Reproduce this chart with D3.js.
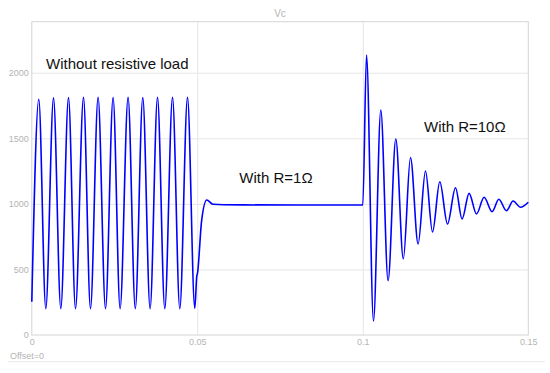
<!DOCTYPE html>
<html>
<head>
<meta charset="utf-8">
<script src="https://cdn.jsdelivr.net/npm/d3@7"></script>
<style>
  body { margin: 0; background: #fff; }
  svg { display: block; font-family: "Liberation Sans", Arial, sans-serif; }
</style>
</head>
<body>
<svg width="550" height="373"></svg>
<script>
// extrema: time (s) and Vc
const tNoLoad = [0, 0.00211, 0.00423, 0.00656, 0.00876, 0.01109, 0.0132, 0.01562, 0.01773, 0.02003, 0.02227,
                 0.02456, 0.02668, 0.02909, 0.03127, 0.03353, 0.03574, 0.03798, 0.04018, 0.04251, 0.04471, 0.04704, 0.04924];
const vNoLoad = [254, 1797, 200, 1808, 200, 1810, 200, 1812, 200, 1812, 200,
                 1810, 200, 1812, 200, 1810, 200, 1812, 200, 1812, 200, 1812, 204];
const tR1 = [0.04985, 0.05005, 0.0513, 0.05287, 0.0547, 0.058, 0.08, 0.1];
const vR1 = [450, 470, 870, 1029, 997, 993, 991, 991];
const tR10 = [0.10112, 0.10323, 0.10544, 0.10764, 0.10997, 0.11224, 0.11441, 0.11671, 0.11894, 0.12106, 0.12326, 0.12559,
              0.128, 0.13, 0.13211, 0.13435, 0.13665, 0.13906, 0.14109, 0.14341, 0.14541, 0.14764, 0.15];
const vR10 = [2135, 107, 1716, 414, 1494, 581, 1353, 694, 1250, 785, 1169, 846,
              1123, 884, 1080, 923, 1050, 940, 1035, 948, 1022, 974, 1012];

const xTicks = [0, 0.05, 0.1, 0.15];
const yTicks = [0, 500, 1000, 1500, 2000];
const notes = ["Without resistive load", "With R=1Ω", "With R=10Ω"];

const svg = d3.select("svg"),
      margin = {top: 21.7, left: 31.8, right: 21.7, bottom: 38},
      width = 550 - margin.left - margin.right,
      height = 373 - margin.top - margin.bottom;

const g = svg.append("g").attr("transform", `translate(${margin.left},${margin.top})`);

const x = d3.scaleLinear().domain([0, 0.15]).range([0, width]);
const y = d3.scaleLinear().domain([0, 2389]).range([height, 0]);

// grid
g.append("g")
  .call(d3.axisLeft(y).tickValues(yTicks.slice(1)).tickSize(-width).tickFormat(""))
  .call(a => a.select(".domain").remove())
  .call(a => a.selectAll("line").attr("stroke", "#e6e6e6"));
g.append("g")
  .attr("transform", `translate(0,${height})`)
  .call(d3.axisBottom(x).tickValues(xTicks.slice(1, 3)).tickSize(-height).tickFormat(""))
  .call(a => a.select(".domain").remove())
  .call(a => a.selectAll("line").attr("stroke", "#e6e6e6"));

g.append("rect")
  .attr("width", width).attr("height", height)
  .attr("fill", "none").attr("stroke", "#d4d4d4");

// tick labels
g.append("g")
  .call(d3.axisLeft(y).tickValues(yTicks).tickSize(0).tickPadding(3).tickFormat(d => String(d)))
  .call(a => a.select(".domain").remove())
  .call(a => a.selectAll("text").attr("fill", "#b4b4b4").attr("font-size", 9).attr("font-family", null));
g.append("g")
  .attr("transform", `translate(0,${height})`)
  .call(d3.axisBottom(x).tickValues(xTicks).tickSize(0).tickPadding(4).tickFormat(d => String(d)))
  .call(a => a.select(".domain").remove())
  .call(a => a.selectAll("text").attr("fill", "#b4b4b4").attr("font-size", 9).attr("font-family", null));

// trace
const pts = [];
[[tNoLoad, vNoLoad], [tR1, vR1], [tR10, vR10]].forEach(([ts, vs]) => {
  ts.forEach((t, i) => pts.push([t, vs[i]]));
});

g.append("path")
  .datum(pts)
  .attr("fill", "none")
  .attr("stroke", "#0000ff")
  .attr("stroke-width", 1.6)
  .attr("d", d3.line().x(d => x(d[0])).y(d => y(d[1])).curve(d3.curveMonotoneX));

// title + footer
svg.append("text").attr("x", margin.left + width / 2).attr("y", 17)
  .attr("text-anchor", "middle").attr("font-size", 10).attr("fill", "#b4b4b4").text("Vc");
svg.append("text").attr("x", 10).attr("y", 359)
  .attr("font-size", 9).attr("fill", "#b4b4b4").text("Offset=0");
svg.append("line").attr("x1", 8).attr("x2", 545).attr("y1", 361.7).attr("y2", 361.7)
  .attr("stroke", "#e8e8e8");

// annotations
const notePos = [[46, 68.5], [239.3, 182.7], [424, 131.7]];
svg.selectAll("text.note")
  .data(notes)
  .enter().append("text")
    .attr("class", "note")
    .attr("x", (d, i) => notePos[i][0])
    .attr("y", (d, i) => notePos[i][1])
    .attr("font-size", 15)
    .attr("fill", "#111")
    .text(d => d);
</script>
</body>
</html>
